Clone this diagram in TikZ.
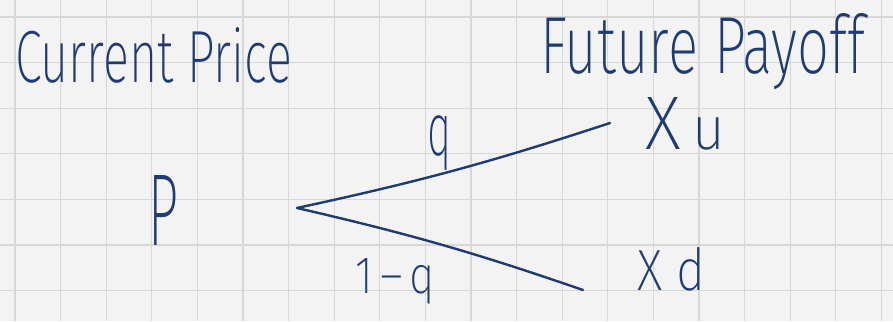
\documentclass[tikz,border=0pt]{standalone}
\usepackage{fontspec}
\setmainfont{Fira Sans}[UprightFont={* ExtraLight}]
\usepackage{graphicx}
\usetikzlibrary{positioning, calc}
\definecolor{inkc}{RGB}{30,60,112}
\definecolor{paper}{RGB}{243,243,243}
\definecolor{gridc}{RGB}{215,215,215}
\tikzset{
  hand/.style={text=inkc, inner sep=0pt, anchor=base west},
  branch/.style={draw=inkc, line width=2.4pt, line cap=round}
}

\begin{document}
\begin{tikzpicture}[x=1pt, y=1pt]
    % Papel quadriculado
    \fill[paper] (0,0) rectangle (893,321);
    \useasboundingbox (0,0) rectangle (893,321);
    \foreach \i in {0,...,19}
      \draw[gridc, line width=1.1pt] ({15+45.6*\i},0) -- ++(0,321);
    \foreach \j in {0,...,6}
      \draw[gridc, line width=1.1pt] (0,{304-45.6*\j}) -- ++(893,0);
    % Titulos
    \node[hand] (cur) at (15,238) {\resizebox{277pt}{55pt}{Current Price}};
    \node[hand] (fut) at (540,247) {\resizebox{325pt}{60pt}{Future Payoff}};
    % Preco e payoffs
    \node[hand] (P) at (148,76) {\resizebox{30pt}{70pt}{P}};
    \node[hand] (xu) at (645,171) {\resizebox{80pt}{52pt}{X\,{\footnotesize u}}};
    \node[hand] (xd) at (637,31) {\resizebox{68pt}{43pt}{X d}};
    % Ramos
    \coordinate (root) at (297,113);
    \coordinate (upend) at (610,198);
    \coordinate (downend) at (583,31);
    \draw[branch] (root) to[bend right=3] (upend);
    \draw[branch] (root) to[bend left=3] (downend);
    % Probabilidades
    \node[hand, anchor=north west] (q) at (427,206) {\resizebox*{24pt}{55pt}{q}};
    \node[hand] (qd) at (355,28) {\resizebox{80pt}{35pt}{1\,–\,q}};
\end{tikzpicture}
\end{document}
